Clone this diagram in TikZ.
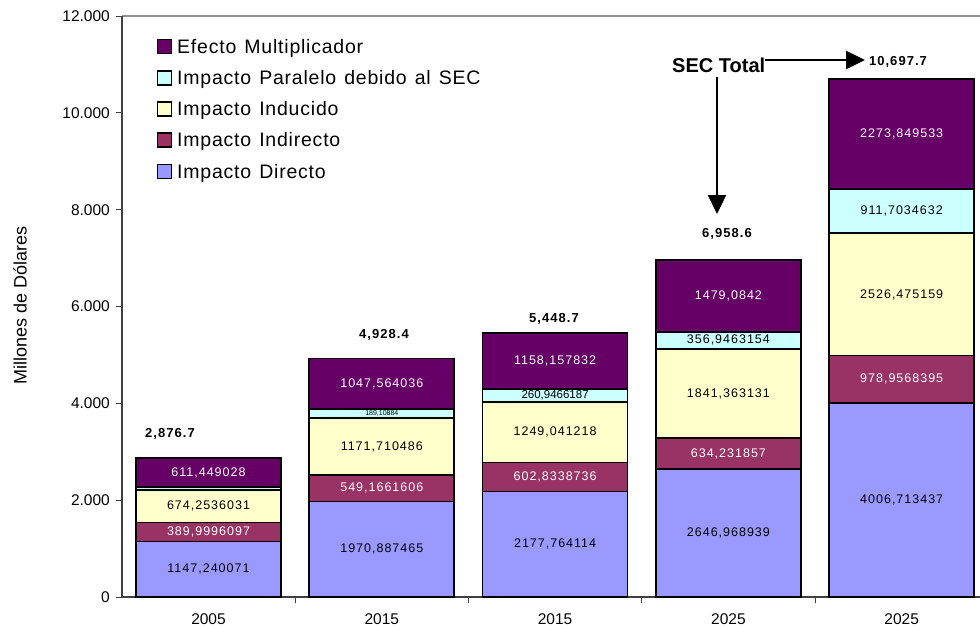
\documentclass[tikz,border=0pt]{standalone}
\usepackage{fontspec}
\setmainfont{Liberation Sans}
\newfontfamily\segfont[LetterSpace=8]{Liberation Sans}
\newfontfamily\legfont[LetterSpace=4,WordSpace=1.3]{Liberation Sans}
\usetikzlibrary{arrows.meta}
\definecolor{cmult}{HTML}{660066}
\definecolor{cpar}{HTML}{CCFFFF}
\definecolor{cind}{HTML}{FFFFCC}
\definecolor{cindir}{HTML}{993366}
\definecolor{cdir}{HTML}{9999FF}
\definecolor{axgray}{HTML}{404040}
\definecolor{topgray}{HTML}{909090}
\newcommand\vy[1]{597-0.048417*(#1)}
\newcommand\barseg[7]{%
  \draw[segbox,fill=#5] (#2,{\vy{#3}}) rectangle ({#2+145},{\vy{#4}});
  \node[seglbl,text=#6] (#1) at ({#2+72.5},{597-0.024208*(#3)-0.024208*(#4)}) {#7};}
\tikzset{
  segbox/.style={draw=black,line width=1.7pt},
  seglbl/.style={inner sep=0pt,font=\segfont\fontsize{12.5}{14}\selectfont},
  totlbl/.style={inner sep=0pt,anchor=base,font=\segfont\bfseries\fontsize{13}{15}\selectfont},
  ticklbl/.style={inner sep=0pt,font=\fontsize{15.5}{17}\selectfont},
  legsq/.style={draw=black,line width=1.4pt,minimum size=14pt,inner sep=0pt},
  legtxt/.style={inner sep=0pt,anchor=base west,font=\legfont\fontsize{19.5}{22}\selectfont},
  arr/.style={line width=2.4pt,-{Triangle[length=19pt,width=18pt]}},
}
\begin{document}
\begin{tikzpicture}[x=1pt,y=-1pt]
\useasboundingbox (0,0) rectangle (980,629);
% plot frame and axes
\draw[topgray,line width=1.4pt] (122,16) -- (980,16);
\draw[axgray,line width=1.2pt] (122,16) -- (122,597);
\draw[axgray,line width=1.2pt] (122,597) -- (980,597);
\foreach \v/\t in {0/0,2000/2.000,4000/4.000,6000/6.000,8000/8.000,10000/10.000,12000/12.000}{
  \draw[axgray,line width=1pt] (116,{\vy{\v}}) -- (122,{\vy{\v}});
  \node[ticklbl,anchor=east] (y\v) at (110,{\vy{\v}}) {\t};
}
\foreach \x in {295.3,468.6,641.9,815.2}{
  \draw[axgray,line width=1pt] (\x,597) -- (\x,603);
}
\node[ticklbl,rotate=90,font=\fontsize{18}{20}\selectfont] (ytitle) at (20,305) {Millones de Dólares};
% category labels
\node[ticklbl] (c1) at (208.5,619) {2005};
\node[ticklbl] (c2) at (381.8,619) {2015};
\node[ticklbl] (c3) at (555.1,619) {2015};
\node[ticklbl] (c4) at (728.4,619) {2025};
\node[ticklbl] (c5) at (901.7,619) {2025};
% bar 1
\barseg{b1d}{136}{0}{1147.24}{cdir}{black}{1147,240071}
\barseg{b1i}{136}{1147.24}{1537.24}{cindir}{white}{389,9996097}
\barseg{b1n}{136}{1537.24}{2211.49}{cind}{black}{674,2536031}
\draw[segbox,fill=cpar] (136,{\vy{2211.49}}) rectangle (281,{\vy{2265.25}});
\barseg{b1m}{136}{2265.25}{2876.7}{cmult}{white}{611,449028}
% bar 2
\barseg{b2d}{309.3}{0}{1970.887}{cdir}{black}{1970,887465}
\barseg{b2i}{309.3}{1970.887}{2520.053}{cindir}{white}{549,1661606}
\barseg{b2n}{309.3}{2520.053}{3691.763}{cind}{black}{1171,710486}
\draw[segbox,fill=cpar] (309.3,{\vy{3691.763}}) rectangle (454.3,{\vy{3880.872}});
\node[inner sep=0pt,font=\fontsize{7}{7}\selectfont] (b2p) at (381.8,413) {189,10884};
\barseg{b2m}{309.3}{3880.872}{4928.436}{cmult}{white}{1047,564036}
% bar 3
\barseg{b3d}{482.6}{0}{2177.764}{cdir}{black}{2177,764114}
\barseg{b3i}{482.6}{2177.764}{2780.598}{cindir}{white}{602,8338736}
\barseg{b3n}{482.6}{2780.598}{4029.639}{cind}{black}{1249,041218}
\draw[segbox,fill=cpar] (482.6,{\vy{4029.639}}) rectangle (627.6,{\vy{4290.586}});
\node[inner sep=0pt,font=\fontsize{11.5}{12}\selectfont] (b3p) at (555.1,{\vy{4160.1}}) {260,9466187};
\barseg{b3m}{482.6}{4290.586}{5448.744}{cmult}{white}{1158,157832}
% bar 4
\barseg{b4d}{655.9}{0}{2646.969}{cdir}{black}{2646,968939}
\barseg{b4i}{655.9}{2646.969}{3281.201}{cindir}{white}{634,231857}
\barseg{b4n}{655.9}{3281.201}{5122.564}{cind}{black}{1841,363131}
\barseg{b4p}{655.9}{5122.564}{5479.510}{cpar}{black}{356,9463154}
\barseg{b4m}{655.9}{5479.510}{6958.594}{cmult}{white}{1479,0842}
% bar 5
\barseg{b5d}{829.2}{0}{4006.713}{cdir}{black}{4006,713437}
\barseg{b5i}{829.2}{4006.713}{4985.670}{cindir}{white}{978,9568395}
\barseg{b5n}{829.2}{4985.670}{7512.146}{cind}{black}{2526,475159}
\barseg{b5p}{829.2}{7512.146}{8423.849}{cpar}{black}{911,7034632}
\barseg{b5m}{829.2}{8423.849}{10697.699}{cmult}{white}{2273,849533}
% totals
\node[totlbl] (t1) at (170,437) {2,876.7};
\node[totlbl] (t2) at (384,338) {4,928.4};
\node[totlbl] (t3) at (554,322) {5,448.7};
\node[totlbl] (t4) at (727,237) {6,958.6};
\node[totlbl] (t5) at (898,65) {10,697.7};
% SEC Total arrows
\node[inner sep=0pt,anchor=base west,font=\bfseries\fontsize{20}{22}\selectfont] (sec) at (672,72) {SEC Total};
\coordinate (a4) at (717,214);
\coordinate (a5) at (865,60);
\draw[arr] (sec.south -| a4) ++(0,5) -- (a4);
\draw[arr] (sec.east |- a5) -- (a5);
% legend
\node[legsq,fill=cmult]  (q1) at (164.5,46.5) {};
\node[legsq,fill=cpar]   (q2) at (164.5,78) {};
\node[legsq,fill=cind]   (q3) at (164.5,109) {};
\node[legsq,fill=cindir] (q4) at (164.5,140) {};
\node[legsq,fill=cdir]   (q5) at (164.5,171.5) {};
\node[legtxt] (l1) at (177,53) {Efecto Multiplicador};
\node[legtxt] (l2) at (177,84.5) {Impacto Paralelo debido al SEC};
\node[legtxt] (l3) at (177,115.5) {Impacto Inducido};
\node[legtxt] (l4) at (177,146.5) {Impacto Indirecto};
\node[legtxt] (l5) at (177,178) {Impacto Directo};
\end{tikzpicture}
\end{document}
